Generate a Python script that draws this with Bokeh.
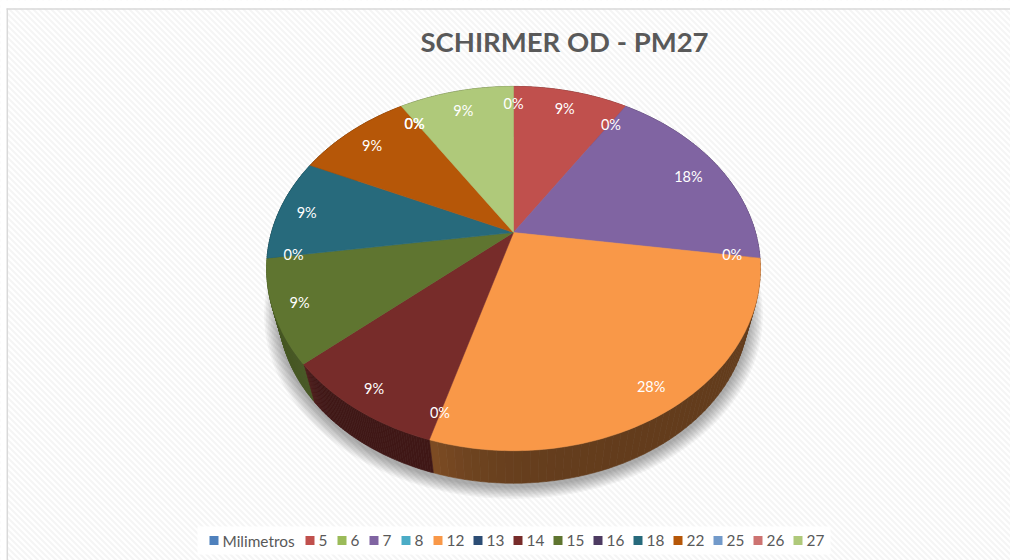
import math
from bokeh.plotting import figure
from bokeh.models import ColumnDataSource, Range1d
from bokeh.core.properties import value
from bokeh.embed import file_html
from bokeh.resources import INLINE

# ---- data
categories = ["Milimetros", "5", "6", "7", "8", "12", "13", "14", "15", "16", "18", "22", "25", "26", "27"]
counts = [0, 1, 0, 2, 0, 3, 0, 1, 1, 0, 1, 1, 0, 0, 1]
labels = ["0%", "9%", "0%", "18%", "0%", "28%", "0%", "9%", "9%", "0%", "9%", "9%", "0%", "0%", "9%"]
colors = ["#4F81BD", "#C0504D", "#9BBB59", "#8064A2", "#4BACC6", "#F99848", "#2C4D75", "#772C2A",
          "#5F7530", "#4D3B62", "#276A7C", "#B65708", "#729ACA", "#CD7371", "#AFC97A"]
title = "SCHIRMER OD - PM27"

# ---- perspective model of the tilted pie, in page pixels
CX, CY = 513.0, 232.0
A, B, K = 242.0, 175.0, 0.198
BOT_S, BOT_Y = 0.952, 275.0
label_radius = [0.875, 0.875, 0.85, 0.85, 0.89, 0.895, 0.895, 0.905, 0.90, 0.895, 0.885, 0.86, 0.865, 0.865, 0.855]
side_shade = {"12": 0.40, "14": 0.53, "15": 0.75}


def top(frac, r=1.0):
    t = 2 * math.pi * frac
    u, v = r * math.sin(t), r * math.cos(t)
    d = 1 + K * v
    return CX + A * u / d, CY - B * v / d


def bottom(frac, grow=0.0, dy=0.0):
    x, y = top(frac)
    return CX + (BOT_S + grow) * (x - CX), BOT_Y + dy + (BOT_S + grow) * (y - CY)


def shade(hexcol, k):
    r, g, b = (int(hexcol[i:i + 2], 16) for i in (1, 3, 5))
    return "#%02x%02x%02x" % (int(r * k), int(g * k), int(b * k))


W, H = 1010, 560
p = figure(width=W, height=H, output_backend="svg", toolbar_location=None,
           x_range=Range1d(0, W), y_range=Range1d(H, 0),
           x_axis_location=None, y_axis_location=None, min_border=0,
           background_fill_color="#ffffff", border_fill_color="#ffffff", outline_line_color=None)
p.grid.visible = False

# hatched chart background
hx, hy = [], []
for i in range(-100, 180):
    x0 = i * 6.0
    hx.append([x0, x0 + 600])
    hy.append([0, 600])
p.multi_line(hx, hy, line_color="#f5f5f5", line_width=2.0)

# white page strip left of and above the chart, then the chart border
p.quad(left=[0], right=[6.5], top=[0], bottom=[H], fill_color="#ffffff", line_color=None)
p.quad(left=[0], right=[W], top=[0], bottom=[8], fill_color="#ffffff", line_color=None)
p.line([6.8, 6.8], [8, H], line_color="#d9d9d9", line_width=1.5)
p.line([6, W], [8.5, 8.5], line_color="#d9d9d9", line_width=1.5)

# soft shadow below the pie
N = 240
fr = [i / N for i in range(N + 1)]
for j in range(9):
    g = 0.006 + j * 0.0065
    pts = [bottom(f, g, 3.0) for f in fr]
    p.patch([q[0] for q in pts], [q[1] for q in pts], fill_color="#000000", fill_alpha=0.04, line_color=None)

# side walls and top faces
total = sum(counts)
edges = [0.0]
for c in counts:
    edges.append(edges[-1] + c / total)

for i, cat in enumerate(categories):
    if counts[i] == 0:
        continue
    k0 = side_shade.get(cat, 0.5)
    n = 60
    for s in range(n):
        a = edges[i] + (edges[i + 1] - edges[i]) * s / n
        b = edges[i] + (edges[i + 1] - edges[i]) * (s + 1) / n
        t = (s + 0.5) / n
        k = min(1.0, k0 * (1 + 0.27 * t ** 10))
        col = shade(colors[i], k)
        ta, tb, bb, ba = top(a), top(b), bottom(b), bottom(a)
        p.patch([ta[0], tb[0], bb[0], ba[0]], [ta[1], tb[1], bb[1], ba[1]],
                fill_color=col, line_color=col, line_width=0.6)

for i, cat in enumerate(categories):
    if counts[i] == 0:
        continue
    m = counts[i] * 40
    fs = [edges[i] + (edges[i + 1] - edges[i]) * j / m for j in range(m + 1)]
    pts = [top(f) for f in fs]
    p.patch([CX] + [q[0] for q in pts], [CY] + [q[1] for q in pts],
            fill_color=colors[i], line_color=colors[i], line_width=0.5)

# data labels
lx, ly = [], []
for i in range(len(categories)):
    x, y = top((edges[i] + edges[i + 1]) / 2, label_radius[i])
    lx.append(x)
    ly.append(y + (2 if y < CY else -1))
p.text(x="x", y="y", text="t", source=ColumnDataSource(dict(x=lx, y=ly, t=labels)),
       text_color="#ffffff", text_font=value("Lato"), text_font_size="14.5px",
       text_align="center", text_baseline="middle")

# title
p.text([564], [40.5], text=[title], text_color="#595959", text_font=value("Lato"),
       text_font_style="bold", text_font_size="27.5px", text_align="center", text_baseline="middle")

# legend: squares and labels laid out one after the other, as the original spaces them
LEG_Y = 540
p.quad(left=[197], right=[830], top=[526], bottom=[554], fill_color="#ffffff", line_color=None)
sx, tx = [], []
cur = 209.0
for cat in categories:
    sx.append(cur + 4.5)
    tx.append(cur + 13)
    cur += 24 + (72 if len(cat) > 2 else 8 * len(cat))
p.scatter(sx, [LEG_Y] * len(sx), marker="square", size=9, fill_color=colors, line_color=None)
p.text(tx, [LEG_Y] * len(tx), text=categories, text_color="#595959", text_font=value("Lato"),
       text_font_size="15.4px", text_align="left", text_baseline="middle")

open("out.html", "w").write(file_html(p, INLINE))
